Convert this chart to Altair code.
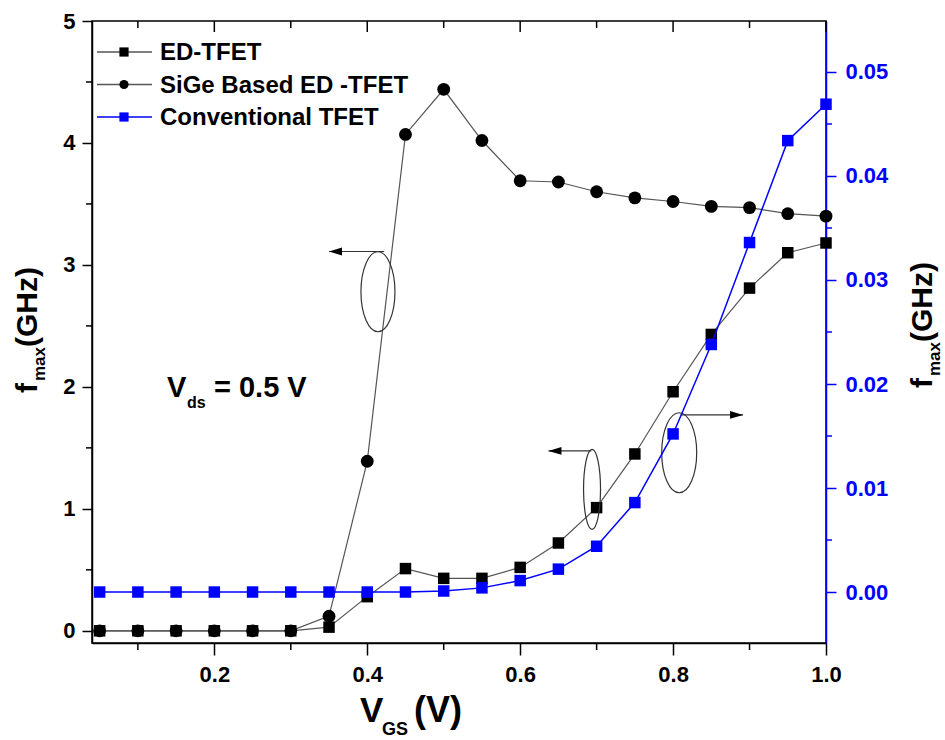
import altair as alt
import pandas as pd

FONT = "Liberation Sans"

# Gate voltage sweep (V)
vgs = [0.05, 0.10, 0.15, 0.20, 0.25, 0.30, 0.35, 0.40, 0.45, 0.50,
       0.55, 0.60, 0.65, 0.70, 0.75, 0.80, 0.85, 0.90, 0.95, 1.00]

# f_max (GHz), left axis
fmax_ed = [0.0, 0.0, 0.0, 0.0, 0.0, 0.0, 0.03, 0.28, 0.51, 0.43,
           0.43, 0.52, 0.72, 1.01, 1.45, 1.96, 2.43, 2.81, 3.10, 3.18]
fmax_sige = [0.0, 0.0, 0.0, 0.0, 0.0, 0.0, 0.12, 1.39, 4.07, 4.44,
             4.02, 3.69, 3.68, 3.60, 3.55, 3.52, 3.48, 3.47, 3.42, 3.40]

# f_max (GHz), right axis
fmax_conv = [0.0, 0.0, 0.0, 0.0, 0.0, 0.0, 0.0, 0.0, 0.0, 0.0001,
             0.0004, 0.0011, 0.0022, 0.0044, 0.0086, 0.0152, 0.0238, 0.0336, 0.0434, 0.0469]

series_names = ["ED-TFET", "SiGe Based ED -TFET", "Conventional TFET"]

# Axis tick values
x_major = [0.2, 0.4, 0.6, 0.8, 1.0]
x_minor = [0.1, 0.3, 0.5, 0.7, 0.9]
yl_major = [0, 1, 2, 3, 4, 5]
yl_minor = [0.5, 1.5, 2.5, 3.5, 4.5]
yr_major = [0.0, 0.01, 0.02, 0.03, 0.04, 0.05]
yr_minor = [0.005, 0.015, 0.025, 0.035, 0.045]

# Callout ellipses and arrows (data coordinates)
ellipse_x = [0.414, 0.694, 0.808]
ellipse_y = [2.78, 1.16, 1.46]
ellipse_rx = [0.425, 0.2125, 0.4375]
arrow_from = [0.422, 0.693, 0.810]
arrow_to = [0.350, 0.637, 0.8915]
arrow_y = [3.11, 1.475, 1.77]

W, H = 734, 622
BLUE = "#0000ff"
LINE_GRAY = "#555555"

df_left = pd.DataFrame({"vgs": vgs, "ed": fmax_ed, "sige": fmax_sige})
df_right = pd.DataFrame({"vgs": vgs, "conv": fmax_conv})

x_scale = alt.Scale(domain=[0.04, 1.0], nice=False, zero=False)
yl_scale = alt.Scale(domain=[-0.1, 5.0], nice=False, zero=False)
yr_scale = alt.Scale(domain=[-0.0049, 0.0549], nice=False, zero=False)

# One axis definition per scale, reused by every layer on that scale so
# the layers merge into a single axis.
x_axis = alt.Axis(values=x_major, format=".1f", title=None, grid=False, orient="bottom",
                  tickSize=12, tickWidth=1.5, tickColor="black",
                  domainColor="black", domainWidth=1.5,
                  labelFont=FONT, labelFontSize=22, labelFontWeight="bold",
                  labelColor="black", labelPadding=9, labelFlush=False)
yl_axis = alt.Axis(values=yl_major, format="d", title=None, grid=False, orient="left",
                   tickSize=10, tickWidth=1.5, tickColor="black",
                   domainColor="black", domainWidth=1.5,
                   labelFont=FONT, labelFontSize=22, labelFontWeight="bold",
                   labelColor="black", labelPadding=7, labelFlush=False)
yr_axis = alt.Axis(values=yr_major, format=".2f", title=None, grid=False, orient="right",
                   tickSize=10, tickWidth=1.5, tickColor=BLUE,
                   domainColor=BLUE, domainWidth=1.5,
                   labelFont=FONT, labelFontSize=22, labelFontWeight="bold",
                   labelColor=BLUE, labelPadding=9, labelFlush=False)


def X(field):
    return alt.X(field, type="quantitative", scale=x_scale, axis=x_axis)


def YL(field):
    return alt.Y(field, type="quantitative", scale=yl_scale, axis=yl_axis)


def YR(field):
    return alt.Y(field, type="quantitative", scale=yr_scale, axis=yr_axis)


base_l = alt.Chart(df_left)

line_ed = base_l.mark_line(color=LINE_GRAY, strokeWidth=1.2).encode(x=X("vgs"), y=YL("ed"))
pts_ed = base_l.mark_point(shape="square", filled=True, color="black", opacity=1,
                           size=132).encode(x=X("vgs"), y=YL("ed"))
line_sige = base_l.mark_line(color=LINE_GRAY, strokeWidth=1.2).encode(x=X("vgs"), y=YL("sige"))
pts_sige = base_l.mark_point(shape="circle", filled=True, color="black", opacity=1,
                             size=165).encode(x=X("vgs"), y=YL("sige"))

# Minor ticks on the left axis
yl_minor_ticks = alt.Chart(pd.DataFrame({"v": yl_minor})).mark_rule(
    color="black", strokeWidth=1.5).encode(
    y=YL("v"), x=alt.value(-6), x2=alt.value(0),
)


def ellipse_path(r, k=0.5523):
    a = r * k
    return (f"M 0 -1 C {a:.4f} -1 {r:.4f} -{k} {r:.4f} 0 "
            f"C {r:.4f} {k} {a:.4f} 1 0 1 "
            f"C -{a:.4f} 1 -{r:.4f} {k} -{r:.4f} 0 "
            f"C -{r:.4f} -{k} -{a:.4f} -1 0 -1 Z")


callouts = []
for ex, ey, er in zip(ellipse_x, ellipse_y, ellipse_rx):
    callouts.append(
        alt.Chart(pd.DataFrame({"x": [ex], "y": [ey]})).mark_point(
            shape=ellipse_path(er), size=6400, filled=False, stroke="#333333",
            strokeWidth=1.2, opacity=1).encode(x=X("x"), y=YL("y"))
    )

df_arrows = pd.DataFrame({"x0": arrow_from, "x1": arrow_to, "y": arrow_y})
arrow_lines = alt.Chart(df_arrows).mark_rule(color="#333333", strokeWidth=1.2).encode(
    x=X("x0"), x2="x1:Q", y=YL("y"),
)
LEFT_HEAD = "M 0 0 L 2 -0.6 L 2 0.6 Z"
RIGHT_HEAD = "M 0 0 L -2 -0.6 L -2 0.6 Z"
df_heads = pd.DataFrame({"x": arrow_to, "y": arrow_y, "dir": ["l", "l", "r"]})
arrow_heads = alt.Chart(df_heads).mark_point(filled=True, color="black", opacity=1, size=169).encode(
    x=X("x"), y=YL("y"),
    shape=alt.Shape("dir:N", scale=alt.Scale(domain=["l", "r"], range=[LEFT_HEAD, RIGHT_HEAD]),
                    legend=None),
)

# Bottom minor ticks and inward ticks along the top edge
x_minor_ticks = alt.Chart(pd.DataFrame({"v": x_minor})).mark_rule(
    color="black", strokeWidth=1.5).encode(x=X("v"), y=alt.value(H), y2=alt.value(H + 7))
top_major = alt.Chart(pd.DataFrame({"v": x_major})).mark_rule(
    color="black", strokeWidth=1.5).encode(x=X("v"), y=alt.value(0), y2=alt.value(11))
top_minor = alt.Chart(pd.DataFrame({"v": x_minor})).mark_rule(
    color="black", strokeWidth=1.5).encode(x=X("v"), y=alt.value(0), y2=alt.value(7))

left_group = alt.layer(line_ed, line_sige, pts_ed, pts_sige, yl_minor_ticks,
                       *callouts, arrow_lines, arrow_heads,
                       x_minor_ticks, top_major, top_minor)

base_r = alt.Chart(df_right)
line_conv = base_r.mark_line(color=BLUE, strokeWidth=1.5).encode(x=X("vgs"), y=YR("conv"))
pts_conv = base_r.mark_point(shape="square", filled=True, color=BLUE, opacity=1,
                             size=132).encode(x=X("vgs"), y=YR("conv"))
yr_minor_ticks = alt.Chart(pd.DataFrame({"v": yr_minor})).mark_rule(
    color=BLUE, strokeWidth=1.5).encode(y=YR("v"), x=alt.value(W), x2=alt.value(W + 6))
right_group = alt.layer(line_conv, pts_conv, yr_minor_ticks)

# Legend: one row per series, stacked from the top
df_leg = pd.DataFrame({"series": series_names, "row": [0, 1, 2]})
leg_y = alt.Y("row:Q", scale=alt.Scale(domain=[0, 2], range=[31, 96]), axis=None)
leg_lines = alt.Chart(df_leg).mark_rule(strokeWidth=1.3).encode(
    x=alt.value(5), x2=alt.value(60), y=leg_y,
    color=alt.Color("series:N", scale=alt.Scale(domain=series_names,
                                                range=[LINE_GRAY, LINE_GRAY, BLUE]), legend=None),
)
leg_pts = alt.Chart(df_leg).mark_point(filled=True, opacity=1, size=85).encode(
    x=alt.value(32), y=leg_y,
    shape=alt.Shape("series:N", scale=alt.Scale(domain=series_names,
                                                range=["square", "circle", "square"]), legend=None),
    fill=alt.Fill("series:N", scale=alt.Scale(domain=series_names,
                                              range=["black", "black", BLUE]), legend=None),
)
leg_text = alt.Chart(df_leg).mark_text(
    align="left", baseline="middle", font=FONT, fontSize=24, fontWeight="bold",
    color="black", dy=1).encode(
    x=alt.value(68), y=leg_y, text="series:N",
)
legend_group = alt.layer(leg_lines, leg_pts, leg_text)

one = pd.DataFrame({"k": [0]})


def label(txt, x, y, size, angle=0, color="black"):
    return alt.Chart(one).mark_text(
        text=txt, font=FONT, fontSize=size, fontWeight="bold", align="left",
        baseline="alphabetic", angle=angle, color=color).encode(
        x=alt.value(x), y=alt.value(y))


texts = [
    # left axis title
    label("f", -55, 372, 30, angle=270),
    label("max", -47, 360, 17, angle=270),
    label("(GHz)", -55, 326, 30, angle=270),
    # right axis title
    label("f", 840, 367, 30, angle=270),
    label("max", 848, 355, 17, angle=270),
    label("(GHz)", 840, 321, 30, angle=270),
    # x axis title
    label("V", 268, 701, 35),
    label("GS", 290, 714, 18),
    label("(V)", 322, 701, 36),
    # bias annotation
    label("V", 75, 376, 29),
    label("ds", 95, 387, 16),
    label("= 0.5 V", 122, 376, 29),
]

chart = alt.layer(
    left_group, right_group, legend_group, *texts
).resolve_scale(
    y="independent", color="independent", shape="independent", fill="independent"
).properties(
    width=W, height=H,
    autosize=alt.AutoSizeParams(type="none"),
    padding={"left": 92, "top": 21, "right": 119, "bottom": 97},
    background="white",
).configure_view(
    stroke="black", strokeWidth=1.5
)

chart.save("out.html", embed_options={"renderer": "svg", "actions": False})
